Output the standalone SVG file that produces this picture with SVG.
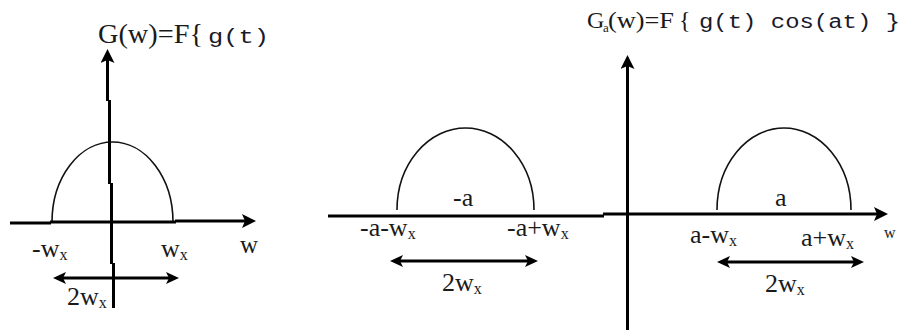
<svg xmlns="http://www.w3.org/2000/svg" width="901" height="332" viewBox="0 0 901 332">
<style>
.bg{fill:#fff}
.ax{fill:none;stroke:#000;stroke-width:3}
.cv{fill:none;stroke:#111;stroke-width:1.6}
.t{font-family:"Liberation Serif",serif;fill:#1a1a1a}
.m{font-family:"Liberation Mono",monospace;fill:#1a1a2a}
.lb{font-family:"Liberation Serif",serif;fill:#1a1a1a;font-size:26px}
.sub{font-size:16px}
.sm{font-size:16px}
.wl{font-size:25px}
</style>
<defs>
<marker id="ah" viewBox="0 0 14 14" refX="3" refY="7" markerWidth="14" markerHeight="14" markerUnits="userSpaceOnUse" orient="auto-start-reverse"><path d="M0,0 L14,7 L0,14 L3,7 Z" fill="#000"/></marker>
<marker id="ah2" viewBox="0 0 13 12" refX="3" refY="6" markerWidth="13" markerHeight="12" markerUnits="userSpaceOnUse" orient="auto-start-reverse"><path d="M0,0 L13,6 L0,12 L3,6 Z" fill="#000"/></marker>
</defs>
<rect class="bg" x="0" y="0" width="901" height="332"/>

<g id="left-plot">
  <text class="t" x="98" y="43" font-size="27" textLength="105" lengthAdjust="spacingAndGlyphs">G(w)=F{</text>
  <text class="m" x="208" y="43" font-size="21" textLength="61" lengthAdjust="spacingAndGlyphs">g(t)</text>
  <path class="cv" d="M52,222 A60.5,80 0 0 1 173,222"/>
  <text class="lb" x="32" y="257">-w<tspan class="sub" dy="3">x</tspan></text>
  <text class="lb" x="161" y="257">w<tspan class="sub" dy="3">x</tspan></text>
  <text class="lb wl" x="240" y="253">w</text>
  <text class="lb" x="67" y="305">2w<tspan class="sub" dy="3">x</tspan></text>
</g>

<g id="right-plot">
  <text class="t" x="587" y="28" font-size="24">G</text>
  <text class="t" x="603" y="32" font-size="13">a</text>
  <text class="t" x="608" y="28" font-size="24" textLength="66" lengthAdjust="spacingAndGlyphs">(w)=F</text>
  <text class="t" x="679" y="28" font-size="24">{</text>
  <text class="m" x="699" y="28" font-size="20" textLength="201" lengthAdjust="spacingAndGlyphs">g(t) cos(at) }</text>
  <path class="cv" d="M397,210 A68.5,82 0 0 1 534,210"/>
  <path class="cv" d="M717,210 A67,82 0 0 1 851,210"/>
  <text class="lb" x="453" y="206">-a</text>
  <text class="lb" x="775" y="206">a</text>
  <text class="lb" x="360" y="236">-a-w<tspan class="sub" dy="3">x</tspan></text>
  <text class="lb" x="507" y="236">-a+w<tspan class="sub" dy="3">x</tspan></text>
  <text class="lb" x="690" y="243">a-w<tspan class="sub" dy="3">x</tspan></text>
  <text class="lb" x="801" y="246">a+w<tspan class="sub" dy="3">x</tspan></text>
  <text class="lb sm" x="884" y="238">w</text>
  <text class="lb" x="442" y="291">2w<tspan class="sub" dy="3">x</tspan></text>
  <text class="lb" x="765" y="292">2w<tspan class="sub" dy="3">x</tspan></text>
</g>

<g id="connectors">
  <path class="ax" d="M107.5,101 V60" marker-end="url(#ah)"/>
  <path class="ax" d="M109.5,100 V184 M111.5,183 V264 M113.5,263 V308"/>
  <path class="ax" d="M10,223 H51 M50,222 H176"/>
  <path class="ax" d="M175,221 H245" marker-end="url(#ah)"/>
  <path class="ax" d="M63,278 H169" marker-start="url(#ah2)" marker-end="url(#ah2)"/>
  <path class="ax" d="M328,216 H604"/>
  <path class="ax" d="M603,214 H877" marker-end="url(#ah)"/>
  <path class="ax" d="M627.5,330 V66" marker-end="url(#ah)"/>
  <path class="ax" d="M400,261 H528" marker-start="url(#ah2)" marker-end="url(#ah2)"/>
  <path class="ax" d="M727,262 H854" marker-start="url(#ah2)" marker-end="url(#ah2)"/>
</g>
</svg>
